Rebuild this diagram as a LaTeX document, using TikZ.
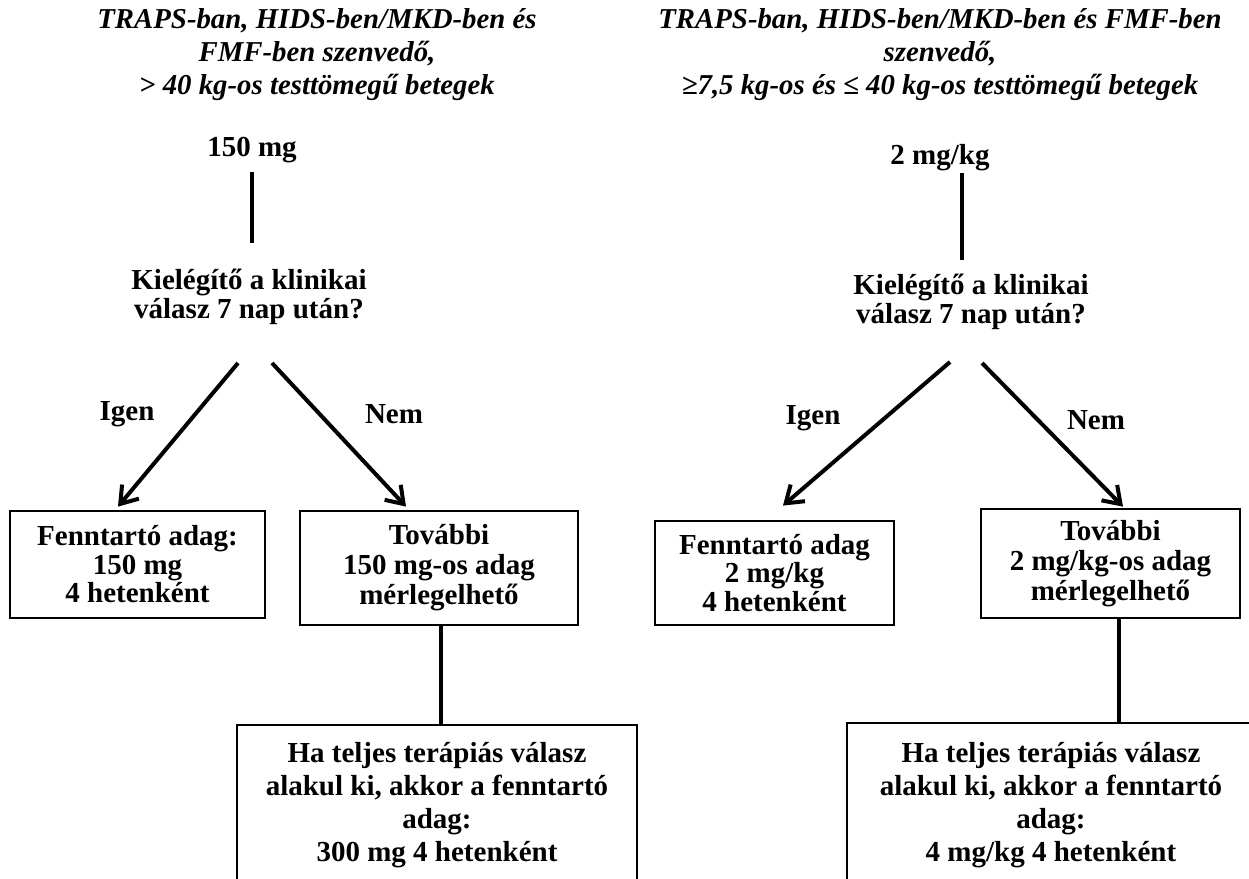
\documentclass[tikz,border=0pt]{standalone}
\usepackage{fontspec}
\setmainfont{Liberation Serif}
\usetikzlibrary{arrows.meta,calc}
\begin{document}
\begin{tikzpicture}[x=0.5pt,y=-0.5pt,
  every node/.style={inner sep=0pt, align=center, font=\bfseries\fontsize{14.5}{16}\selectfont},
  titletext/.style={font=\bfseries\itshape\fontsize{14.4}{16.5}\selectfont},
  qtext/.style={font=\bfseries\fontsize{14.5}{12.5}\selectfont},
  boxa/.style={draw, line width=1.4pt, font=\bfseries\fontsize{14.5}{14.25}\selectfont},
  boxb/.style={draw, line width=1.4pt, font=\bfseries\fontsize{14.5}{15}\selectfont},
  boxc/.style={draw, line width=1.4pt, font=\bfseries\fontsize{14.5}{16.5}\selectfont},
  ln/.style={line width=2pt},
  arr/.style={line width=2pt, -{Straight Barb[length=8pt,width=11pt,line width=2pt]}}
]
\clip (0,0) rectangle (1249,879);
\fill[white] (0,0) rectangle (1249,879);

% ---------------- left column ----------------
\node[titletext] (t1) at (317,55) {TRAPS-ban, HIDS-ben/MKD-ben és\\FMF-ben szenvedő,\\> 40 kg-os testtömegű betegek};
\node (d1) at (252,150) {150 mg};
\node[qtext] (q1) at (249,297) {Kielégítő a klinikai\\válasz 7 nap után?};
\draw[ln] ($(d1)+(0,22)$) -- ($(d1)+(0,93)$);

\node[boxa, minimum width=127.5pt, minimum height=53.5pt] (a1) at (137.5,564.5) {Fenntartó adag:\\150 mg\\4 hetenként};
\node[boxb, minimum width=139pt, minimum height=57pt] (b1) at (439,568) {További\\150 mg-os adag\\mérlegelhető};
\node[boxc, minimum width=200pt, minimum height=80pt] (c1) at (437,805) {Ha teljes terápiás válasz\\alakul ki, akkor a fenntartó\\adag:\\300 mg 4 hetenként};

\coordinate (q1l) at (238,363);
\coordinate (q1r) at (272,363);
\draw[arr] (q1l) -- ($(a1.north)+(-19.5,-3)$);
\draw[arr] (q1r) -- ($(b1.north)+(-33,-3)$);
\node (y1) at (127,414) {Igen};
\node (n1) at (394,414) {Nem};
\draw[ln] (b1.south -| 441,0) -- (c1.north -| 441,0);

% ---------------- right column ----------------
\node[titletext] (t2) at (940,55) {TRAPS-ban, HIDS-ben/MKD-ben és FMF-ben\\szenvedő,\\≥7,5 kg-os és ≤ 40 kg-os testtömegű betegek};
\node (d2) at (940,158) {2 mg/kg};
\node[qtext] (q2) at (971,302) {Kielégítő a klinikai\\válasz 7 nap után?};
\draw[ln] ($(d2)+(22,15)$) -- ($(d2)+(22,102)$);

\node[boxa, minimum width=119.5pt, minimum height=52pt] (a2) at (774.5,573) {Fenntartó adag\\2 mg/kg\\4 hetenként};
\node[boxb, minimum width=129.5pt, minimum height=54.5pt] (b2) at (1110.5,563.5) {További\\2 mg/kg-os adag\\mérlegelhető};
\node[boxc, minimum width=204pt, minimum height=82pt] (c2) at (1051,805) {Ha teljes terápiás válasz\\alakul ki, akkor a fenntartó\\adag:\\4 mg/kg 4 hetenként};

\coordinate (q2l) at (950,362);
\coordinate (q2r) at (982,363);
\draw[arr] (q2l) -- ($(a2.north)+(8.5,-14)$);
\draw[arr] (q2r) -- ($(b2.north)+(12.5,-1)$);
\node (y2) at (813,418) {Igen};
\node (n2) at (1096,420) {Nem};
\draw[ln] (b2.south -| 1119,0) -- (c2.north -| 1119,0);
\end{tikzpicture}
\end{document}
